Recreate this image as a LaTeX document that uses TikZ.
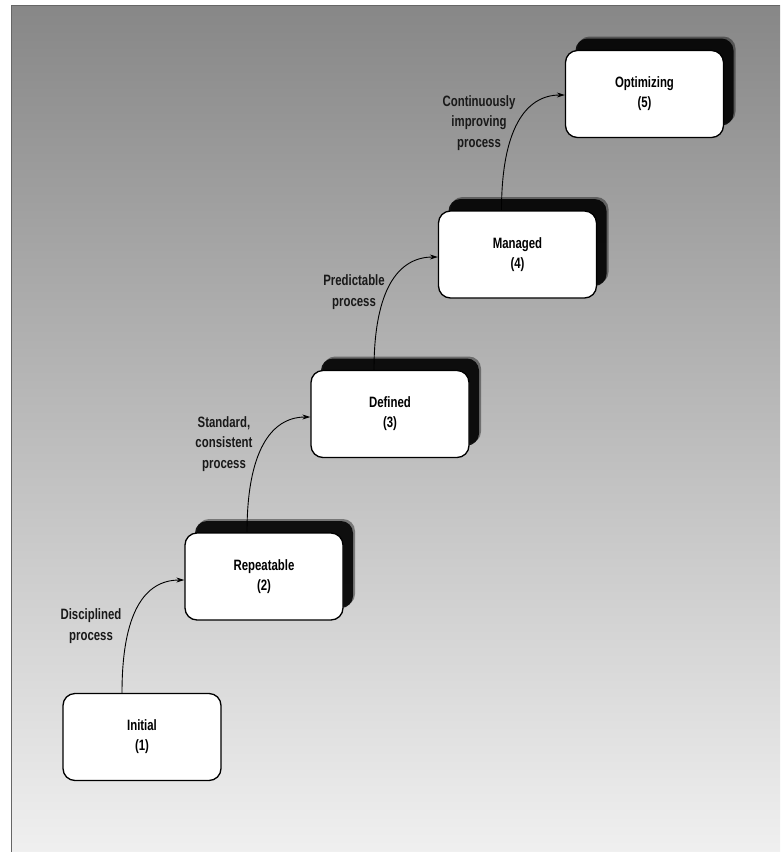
\documentclass[tikz,border=0pt]{standalone}
\usepackage{fontspec}
\newfontfamily\condfont{Liberation Sans}[FakeStretch=0.76]
\usetikzlibrary{arrows.meta,shadows}
\pgfdeclarelayer{bg}
\pgfdeclarelayer{mid}
\pgfsetlayers{bg,mid,main}
\tikzset{
  stagebox/.style={draw=black, line width=1.3pt, fill=white, rounded corners=12pt,
    minimum width=158pt, minimum height=87pt, align=center, inner sep=0pt,
    font=\condfont\bfseries\fontsize{15}{20}\selectfont},
  shadowed/.style={
    general shadow={shadow xshift=12pt, shadow yshift=14pt, fill=black, opacity=0.4},
    general shadow={shadow xshift=10pt, shadow yshift=12pt, fill=black, opacity=0.88}},
  steplabel/.style={align=center, inner sep=0pt, text=black!90,
    font=\condfont\bfseries\fontsize{15}{20.5}\selectfont},
  conn/.style={line width=0.9pt, -{Stealth[length=8pt,width=5pt]}}
}
\begin{document}
\begin{tikzpicture}[x=1pt,y=-1pt]
\useasboundingbox (0,0) rectangle (780,852);
\begin{pgfonlayer}{bg}
  \fill[white] (0,0) rectangle (780,852);
  \shade[top color=black!47, middle color=black!34, bottom color=black!6] (11,5) rectangle (780,852);
  \draw[black!60, line width=0.8pt] (11,852) -- (11,5) -- (780,5);
\end{pgfonlayer}

\node[stagebox] (init) at (142,737) {Initial\\(1)};
\node[stagebox, shadowed] (rep) at (264,576.5) {Repeatable\\(2)};
\node[stagebox, shadowed] (def) at (390,414) {Defined\\(3)};
\node[stagebox, shadowed] (man) at (517.5,254.5) {Managed\\(4)};
\node[stagebox, shadowed] (opt) at (644.5,94) {Optimizing\\(5)};

\node[steplabel] (l1) at (91,626) {Disciplined\\process};
\node[steplabel] (l2) at (224,444) {Standard,\\consistent\\process};
\node[steplabel] (l3) at (354,292) {Predictable\\process};
\node[steplabel] (l4) at (479,123) {Continuously\\improving\\process};

\begin{pgfonlayer}{mid}
  \draw[conn] ([xshift=-20pt]init.north) .. controls +(0,-80) and +(-40,0) .. ([yshift=-3.5pt]rep.west);
  \draw[conn] ([xshift=-17pt]rep.north) .. controls +(0,-80) and +(-40,0) .. ([yshift=-3pt]def.west);
  \draw[conn] ([xshift=-16pt]def.north) .. controls +(0,-80) and +(-40,0) .. ([yshift=-2.5pt]man.west);
  \draw[conn] ([xshift=-16pt]man.north) .. controls +(0,-80) and +(-40,0) .. ([yshift=-1pt]opt.west);
\end{pgfonlayer}
\end{tikzpicture}
\end{document}
